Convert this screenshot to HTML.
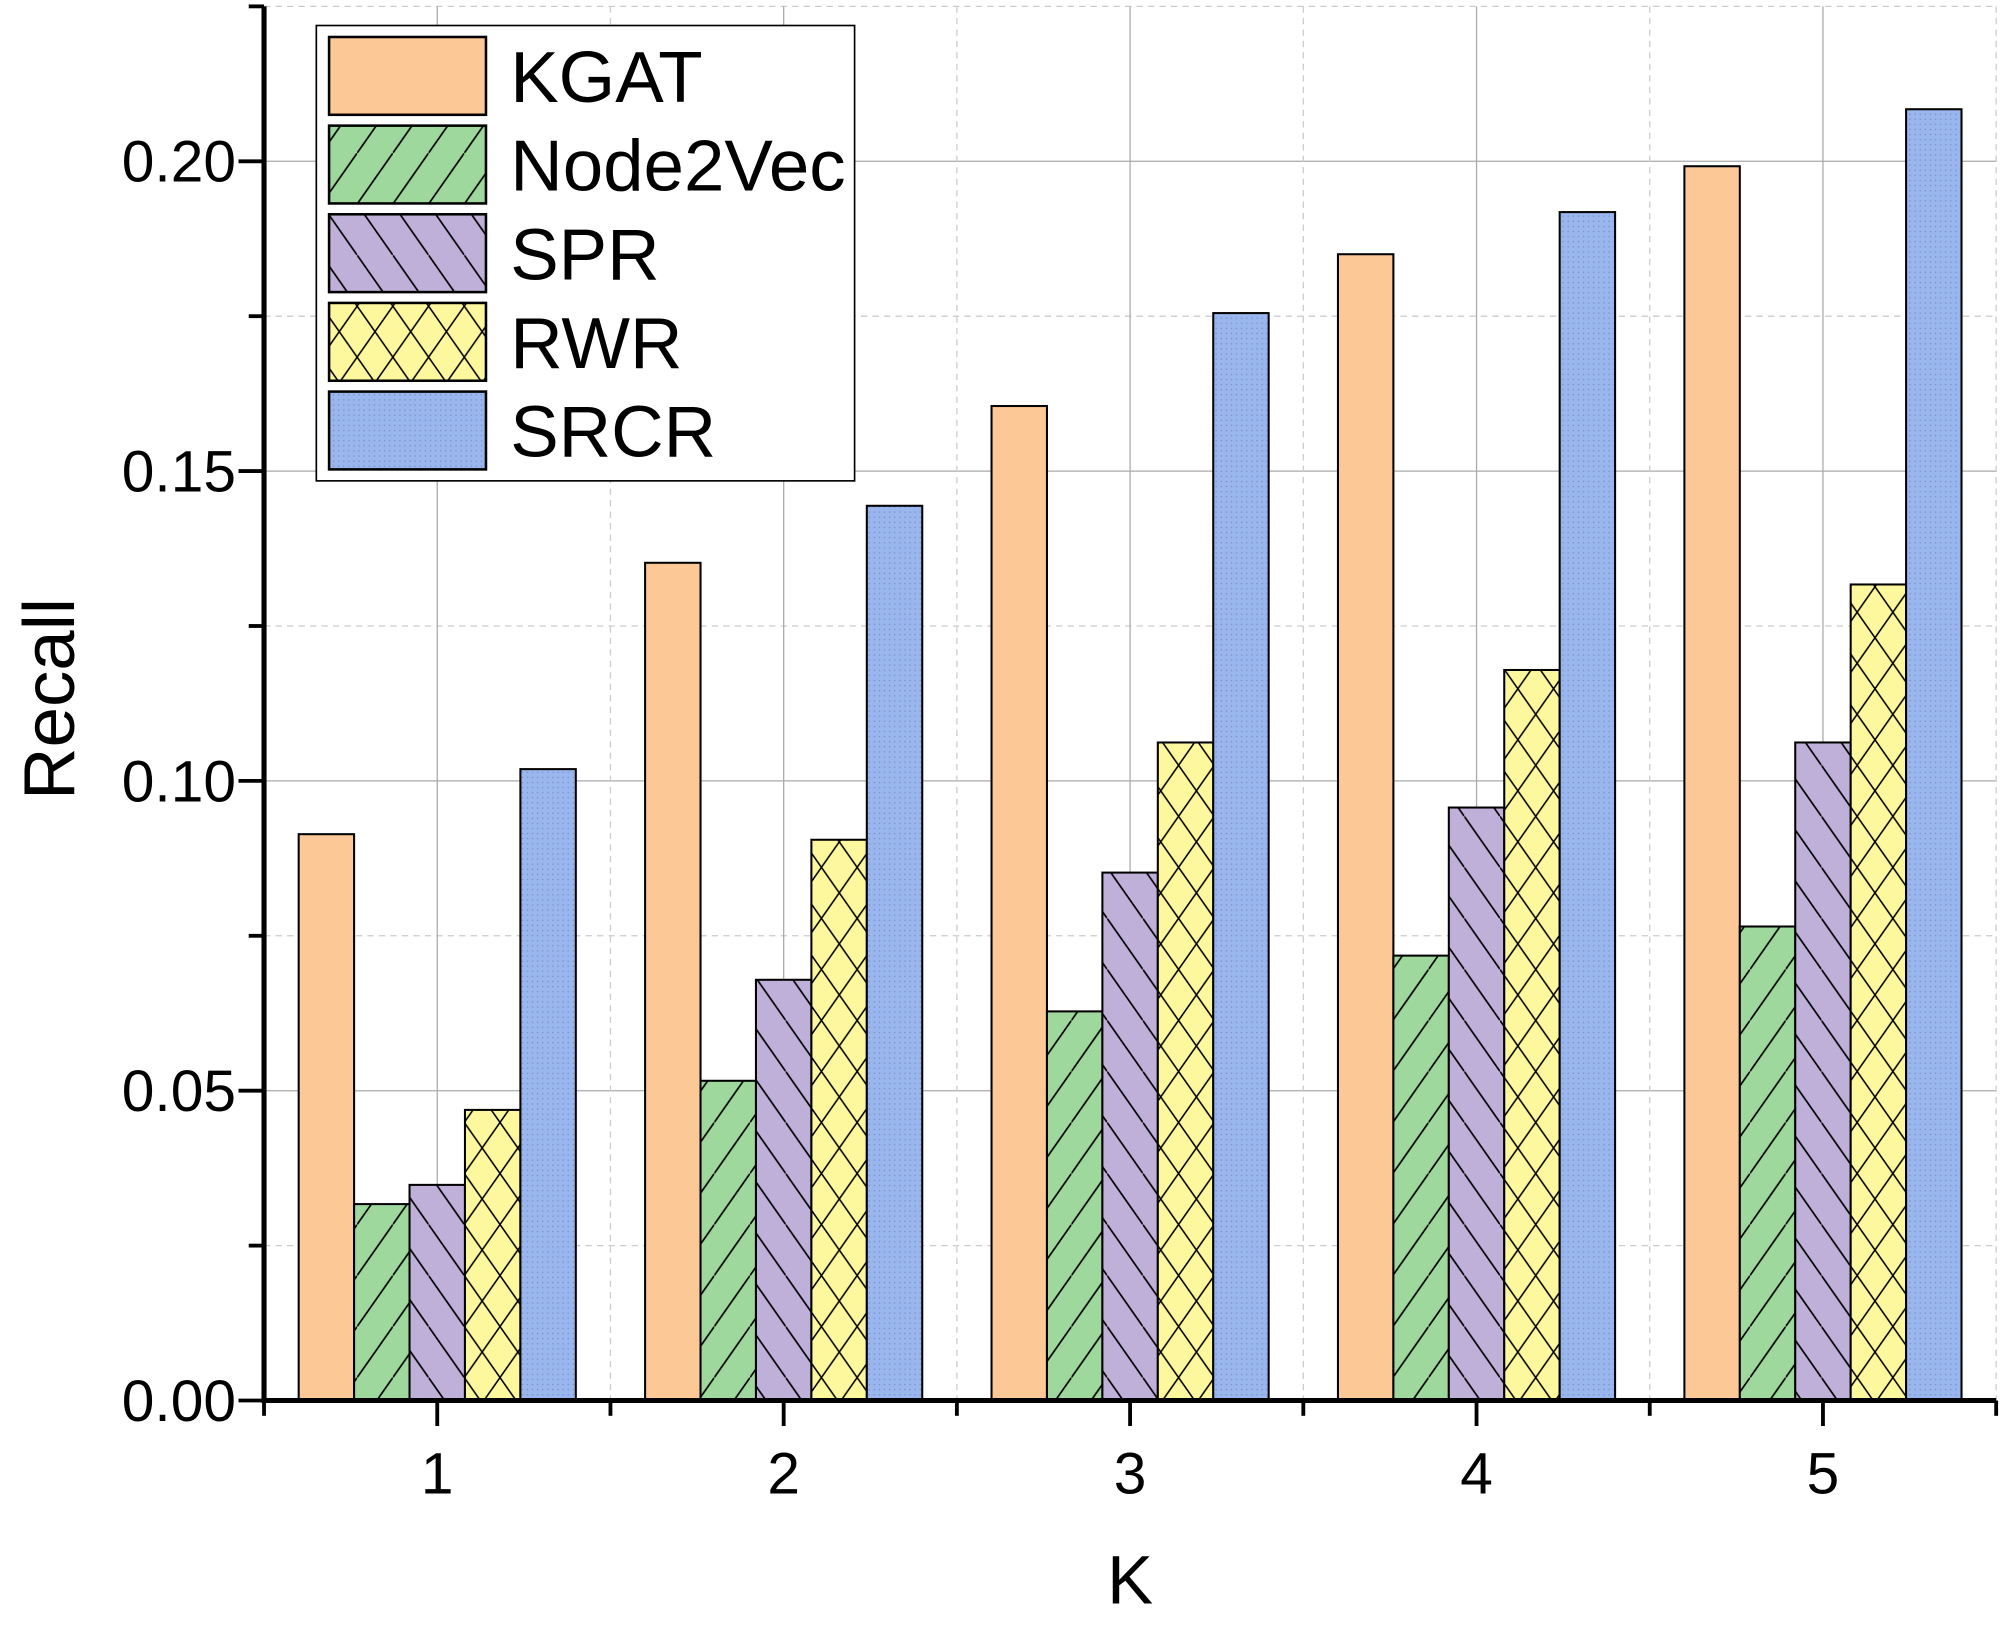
<!DOCTYPE html>
<html><head><meta charset="utf-8"><style>html,body{margin:0;padding:0;background:#fff}svg{display:block}</style></head>
<body>
<svg id="chart" width="2000" height="1625" viewBox="0 0 1568 1274" preserveAspectRatio="none" xmlns="http://www.w3.org/2000/svg" font-family="Liberation Sans, Arial, sans-serif">
<defs>
<pattern id="p-node" patternUnits="userSpaceOnUse" width="28" height="40"><rect width="28" height="40" fill="#9fd89c"/><line x1="0" y1="40" x2="28" y2="0" stroke="#000" stroke-width="1.3"/></pattern>
<pattern id="p-spr" patternUnits="userSpaceOnUse" width="28" height="40"><rect width="28" height="40" fill="#bfb0d9"/><line x1="0" y1="0" x2="28" y2="40" stroke="#000" stroke-width="1.3"/></pattern>
<pattern id="p-rwr" patternUnits="userSpaceOnUse" width="28" height="40"><rect width="28" height="40" fill="#fdf79d"/><line x1="0" y1="0" x2="28" y2="40" stroke="#000" stroke-width="1.2"/><line x1="0" y1="40" x2="28" y2="0" stroke="#000" stroke-width="1.2"/></pattern>
<pattern id="p-srcr" patternUnits="userSpaceOnUse" width="4" height="4"><rect width="4" height="4" fill="#99b6ee"/><rect x="1" y="1" width="1" height="1" fill="#7a8fc0"/></pattern>
</defs>
<g id="grid"></g>
<g id="bars"></g>
<g id="axes"></g>
<g id="legend"></g>
</svg>
<script>
const categories = ["1","2","3","4","5"];
const seriesNames = ["KGAT","Node2Vec","SPR","RWR","SRCR"];
const kgat = [0.0914,0.1352,0.1605,0.185,0.1992];
const node2vec = [0.0317,0.0516,0.0628,0.0718,0.0765];
const spr = [0.0348,0.0679,0.0852,0.0957,0.1062];
const rwr = [0.0469,0.0905,0.1062,0.1179,0.1317];
const srcr = [0.1019,0.1444,0.1755,0.1918,0.2084];
const yTicks = [0,0.05,0.10,0.15,0.20];
const yTickLabels = ["0.00","0.05","0.10","0.15","0.20"];
const fills = ["#fcc896","url(#p-node)","url(#p-spr)","url(#p-rwr)","url(#p-srcr)"];
const series = [kgat,node2vec,spr,rwr,srcr];
const NS="http://www.w3.org/2000/svg";
const X0=207,X1=1565,Y0=1098,YMAX=0.225,YTOP=5;
const xScale=v=>X0+(v-0.5)*(X1-X0)/5;
const yScale=v=>Y0-v*(Y0-YTOP)/YMAX;
function mk(tag,attrs,parent){const e=document.createElementNS(NS,tag);for(const k in attrs)e.setAttribute(k,attrs[k]);parent.appendChild(e);return e;}
const grid=document.getElementById('grid'),bars=document.getElementById('bars'),axes=document.getElementById('axes'),legend=document.getElementById('legend');
for(let i=1;i<=9;i++){const v=i*0.025;const y=yScale(v);const major=i%2===0;
 const l=mk('line',{x1:X0,x2:X1,y1:y,y2:y,stroke:major?'#aaa':'#ccc','stroke-width':1,'stroke-dasharray':major?'none':'5,4'},grid);
 
 }
for(let i=0;i<categories.length;i++){const x=xScale(i+1);
 const l=mk('line',{x1:x,x2:x,y1:YTOP,y2:Y0,stroke:'#aaa','stroke-width':1},grid);
 
 
 const x2=xScale(i+1.5);
 const m=mk('line',{x1:x2,x2:x2,y1:YTOP,y2:Y0,stroke:'#ccc','stroke-width':1,'stroke-dasharray':'5,4'},grid);
 
 }
const bw=0.16;
series.forEach((vals,s)=>{vals.forEach((v,i)=>{
 const xl=xScale(i+1-0.4+s*bw),xr=xScale(i+1-0.4+(s+1)*bw);
 const r=mk('rect',{x:xl,y:yScale(v),width:xr-xl,height:Y0-yScale(v),fill:fills[s],stroke:'#000','stroke-width':1.6},bars);
 
 });});
let a=mk('line',{x1:X0,x2:X0,y1:YTOP,y2:Y0+2,stroke:'#000','stroke-width':4},axes);


a=mk('line',{x1:X0-2,x2:X1,y1:Y0,y2:Y0,stroke:'#000','stroke-width':4},axes);


for(let i=0;i<=9;i++){const y=yScale(i*0.025);const major=i%2===0;
 mk('line',{x1:X0-(major?20:12),x2:X0,y1:y,y2:y,stroke:'#000','stroke-width':3},axes);}
yTicks.forEach((v,i)=>{const t=mk('text',{x:185,y:yScale(v)+16,'text-anchor':'end','font-size':46,fill:'#000'},axes);t.textContent=yTickLabels[i];
 
 });
for(let i=0;i<=10;i++){const v=0.5+i*0.5;const x=xScale(v);const major=i%2===1;
 if(x>X1+1)continue;
 mk('line',{x1:x,x2:x,y1:Y0,y2:Y0+(major?20:12),stroke:'#000','stroke-width':3},axes);}
categories.forEach((c,i)=>{const t=mk('text',{x:xScale(i+1),y:1171,'text-anchor':'middle','font-size':46,fill:'#000'},axes);t.textContent=c;
 
 });
let t=mk('text',{x:886,y:1257,'text-anchor':'middle','font-size':54,fill:'#000'},axes);t.textContent='K';


t=mk('text',{x:0,y:0,transform:'translate(58,548) rotate(-90)','text-anchor':'middle','font-size':57,fill:'#000'},axes);t.textContent='Recall';


let lb=mk('rect',{x:248,y:20,width:422,height:357,fill:'#fff',stroke:'#000','stroke-width':1.3},legend);


seriesNames.forEach((n,s)=>{const y=29+s*69.5;
 const sw=mk('rect',{x:258,y:y,width:123,height:61,fill:fills[s],stroke:'#000','stroke-width':2},legend);
 
 
 const tx=mk('text',{x:400,y:y+51,'font-size':57,fill:'#000'},legend);tx.textContent=n;
 
 });
</script>
</body></html>
